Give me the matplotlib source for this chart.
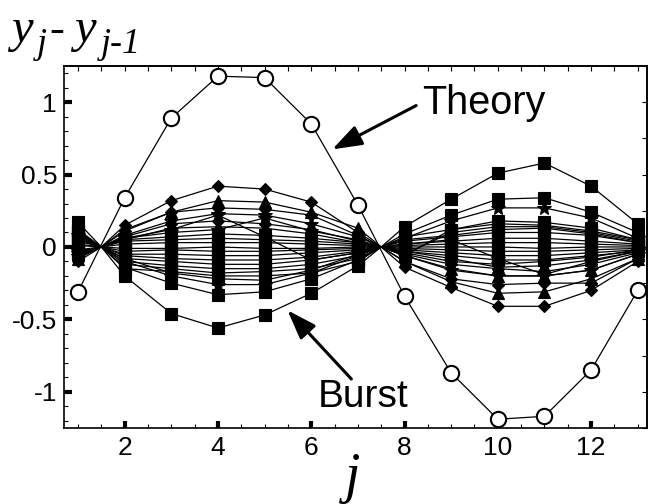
import matplotlib
matplotlib.use("Agg")
import matplotlib.pyplot as plt
from matplotlib.ticker import MultipleLocator, FixedLocator, NullFormatter

plt.rcParams['font.family'] = ['Liberation Sans', 'DejaVu Sans']
plt.rcParams['axes.unicode_minus'] = False

# lattice index
j = [1, 2, 3, 4, 5, 6, 7, 8, 9, 10, 11, 12, 13]
# nodes where every burst profile passes through zero
nodes = [1.5, 7.5]

# theoretical mode
theory = [-0.31, 0.34, 0.89, 1.18, 1.17, 0.85, 0.29,
          -0.34, -0.87, -1.19, -1.17, -0.85, -0.30]

# measured burst profiles, grouped by marker
burst_squares = [
    [0.17, -0.20, -0.46, -0.56, -0.47, -0.32, -0.13, 0.14, 0.33, 0.51, 0.58, 0.42, 0.16],
    [0.11, -0.14, -0.25, -0.33, -0.31, -0.22, -0.09, 0.09, 0.22, 0.33, 0.34, 0.24, 0.10],
    [-0.05, 0.05, 0.07, 0.09, 0.08, 0.06, 0.03, -0.06, 0.12, 0.18, 0.17, 0.13, 0.05],
    [-0.03, 0.04, 0.05, 0.06, 0.05, 0.04, 0.02, -0.05, 0.10, 0.14, 0.14, 0.10, 0.04],
    [-0.02, 0.02, 0.03, 0.03, 0.03, 0.02, 0.01, 0.04, 0.07, 0.10, 0.10, 0.08, 0.03],
    [0.01, -0.01, -0.01, 0.00, -0.01, -0.01, 0.00, 0.02, 0.04, 0.06, 0.06, 0.04, 0.02],
    [0.02, -0.03, -0.02, -0.03, -0.03, -0.02, -0.01, 0.01, 0.02, 0.03, 0.03, 0.02, 0.01],
    [0.04, -0.05, -0.05, -0.06, -0.06, -0.04, -0.02, 0.00, 0.00, 0.00, -0.01, 0.00, 0.00],
    [0.05, -0.06, -0.08, -0.09, -0.09, -0.07, -0.03, -0.01, -0.02, -0.03, -0.03, -0.02, -0.01],
    [0.07, -0.08, -0.10, -0.12, -0.12, -0.09, -0.04, -0.02, -0.04, -0.06, -0.06, -0.04, -0.02],
    [0.09, -0.10, -0.13, -0.15, -0.15, -0.12, -0.06, -0.03, -0.06, -0.09, -0.09, -0.06, -0.03],
    [0.10, -0.12, -0.15, -0.18, -0.17, -0.15, -0.08, 0.05, 0.08, 0.12, 0.13, 0.09, 0.03],
    [0.12, -0.15, -0.17, -0.20, -0.20, -0.18, -0.10, 0.07, 0.12, 0.16, 0.15, 0.11, 0.05],
]
burst_diamonds = [
    [-0.10, 0.15, 0.32, 0.42, 0.40, 0.31, 0.10, -0.14, -0.28, -0.41, -0.41, -0.30, -0.10],
    [-0.07, 0.11, 0.24, 0.27, 0.26, 0.22, 0.08, -0.10, -0.22, -0.26, -0.25, -0.25, -0.08],
    [-0.05, 0.07, 0.16, 0.18, 0.16, 0.12, 0.04, -0.05, -0.12, -0.15, -0.17, -0.12, -0.04],
]
burst_triangles = [
    [-0.08, 0.12, 0.24, 0.32, 0.31, 0.24, 0.13, -0.10, -0.24, -0.32, -0.31, -0.22, -0.08],
    [-0.04, 0.05, 0.13, 0.14, 0.13, 0.09, 0.03, -0.03, -0.08, -0.14, -0.13, -0.09, -0.03],
    [0.06, -0.08, -0.18, -0.22, -0.23, -0.16, -0.05, -0.06, -0.15, -0.20, -0.20, -0.16, -0.05],
]
burst_stars = [
    [0.08, -0.10, -0.20, -0.26, -0.26, -0.18, -0.06, 0.06, 0.18, 0.27, 0.27, 0.20, 0.06],
    [-0.06, 0.08, 0.18, 0.23, 0.22, 0.16, 0.07, -0.06, -0.16, -0.20, -0.20, -0.16, -0.05],
    [-0.03, 0.06, 0.12, 0.22, 0.07, -0.09, -0.04, 0.02, 0.05, -0.08, -0.19, -0.10, -0.03],
    [-0.04, 0.06, 0.10, 0.12, 0.20, 0.11, 0.05, -0.04, -0.10, -0.12, -0.10, -0.07, -0.02],
]

xs = sorted(j + nodes)
mark_idx = [i for i, x in enumerate(xs) if x not in nodes]


def with_nodes(vals):
    d = dict(zip(j, vals))
    d.update({n: 0.0 for n in nodes})
    return [d[x] for x in xs]


W, H = 650, 504
fig = plt.figure(figsize=(W / 100, H / 100), dpi=100)
ax = fig.add_axes([0.0985, 0.151, 0.897, 0.718])

groups = [
    (burst_squares, 's', 8.0),
    (burst_diamonds, 'D', 6.3),
    (burst_triangles, '^', 8.5),
    (burst_stars, '*', 11.0),
]
for rows, mk, ms in groups:
    for row in rows:
        ax.plot(xs, with_nodes(row), color='black', lw=0.9,
                marker=mk, ms=ms, mfc='black', mec='black', mew=0.8,
                markevery=mark_idx, zorder=2)

ax.plot(j, theory, color='black', lw=0.9, marker='o', ms=11,
        mfc='white', mec='black', mew=1.5, zorder=3)

ax.set_xlim(0.7, 13.2)
ax.set_ylim(-1.25, 1.25)

ax.xaxis.set_major_locator(MultipleLocator(2))
ax.xaxis.set_minor_locator(MultipleLocator(0.5))
ax.yaxis.set_major_locator(FixedLocator([-1, -0.5, 0, 0.5, 1]))
ax.yaxis.set_minor_locator(MultipleLocator(0.1))
ax.set_yticklabels(['-1', '-0.5', '0', '0.5', '1'])

ax.tick_params(which='major', direction='in', length=5, width=3,
               labelsize=19, pad=6)
ax.tick_params(which='minor', direction='in', length=3, width=0.8)
ax.tick_params(axis='y', which='major', length=5.5, width=3, pad=5)

for sp in ax.spines.values():
    sp.set_linewidth(1.2)

# thin mirrored ticks on the top and right frame
top = ax.secondary_xaxis('top')
top.xaxis.set_major_locator(MultipleLocator(0.5))
top.xaxis.set_major_formatter(NullFormatter())
top.tick_params(direction='in', length=3.5, width=0.8)
top.spines['top'].set_linewidth(1.2)

right = ax.secondary_yaxis('right')
right.yaxis.set_major_locator(MultipleLocator(0.25))
right.yaxis.set_major_formatter(NullFormatter())
right.tick_params(direction='in', length=3.5, width=0.8)
right.spines['right'].set_linewidth(1.2)

arrow = dict(arrowstyle='-|>,head_length=1.0,head_width=0.35',
             lw=2.2, color='black', shrinkA=0, shrinkB=0, mutation_scale=18)
ax.annotate('', xy=(6.45, 0.674), xytext=(8.25, 0.977), arrowprops=arrow)
ax.text(8.38, 0.92, 'Theory', fontsize=28.5, va='baseline', ha='left')
ax.annotate('', xy=(5.49, -0.437), xytext=(6.86, -0.912), arrowprops=arrow)
ax.text(6.13, -1.105, 'Burst', fontsize=28, va='baseline', ha='left')


def title_piece(x_px, base_px, s, size):
    fig.text(x_px / W, 1 - base_px / H, s, fontsize=size,
             family='Liberation Serif', style='italic',
             ha='left', va='baseline')


# axis title  y_j - y_{j-1}
title_piece(11, 42, 'y', 35)
title_piece(37, 53, 'j', 26)
title_piece(49, 42, '-', 32)
title_piece(74, 42, 'y', 35)
title_piece(101, 53, 'j-1', 26)

fig.text(0.542, 0.024, 'j', fontsize=40, family='Liberation Serif',
         style='italic', ha='center', va='baseline')

fig.savefig('out.png', dpi=100)
